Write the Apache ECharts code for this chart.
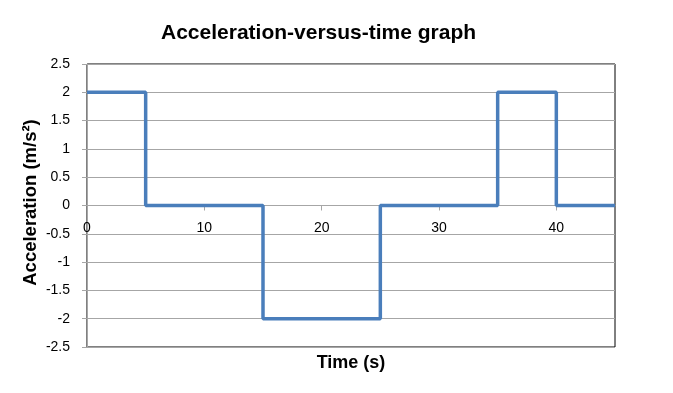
<!DOCTYPE html>
<html>
<head>
<meta charset="utf-8">
<script src="https://cdn.jsdelivr.net/npm/echarts@6/dist/echarts.min.js"></script>
<style>
html,body{margin:0;padding:0;background:#fff;}
#main{width:673px;height:393px;}
</style>
</head>
<body>
<div id="main"></div>
<script>
// Step points: acceleration holds each value until the next time
const times = [0, 5, 15, 25, 35, 40, 45];
const accel = [2, 0, -2, 0, 2, 0, 0];
const xTicks = [0, 10, 20, 30, 40];
const yTicks = [-2.5, -2, -1.5, -1, -0.5, 0, 0.5, 1, 1.5, 2, 2.5];

const font = 'Liberation Sans, Arial, sans-serif';
const gridTop = 64, gridBottom = 46, H = 393;
const plotH = H - gridTop - gridBottom;
const zeroOffset = -plotH * (0 - (-2.5)) / 5; // move x axis up to y = 0

const chart = echarts.init(document.getElementById('main'), null, {renderer: 'canvas'});
chart.setOption({
  animation: false,
  title: {
    text: 'Acceleration-versus-time graph',
    left: 156, top: 18,
    textStyle: {fontFamily: font, fontWeight: 'bold', fontSize: 21, color: '#000'}
  },
  grid: {
    left: 87, right: 58, top: gridTop, bottom: gridBottom,
    show: true, borderColor: '#000', borderWidth: 1, backgroundColor: 'transparent'
  },
  xAxis: [{
    type: 'value', min: 0, max: 45, interval: 10, position: 'bottom', offset: zeroOffset,
    axisLine: {onZero: false, lineStyle: {color: '#a6a6a6', width: 1}},
    axisTick: {show: true, inside: false, length: 5, lineStyle: {color: '#a6a6a6'}},
    axisLabel: {
      margin: 16, fontFamily: font, fontSize: 14, color: '#000',
      showMaxLabel: false,
      formatter: v => (xTicks.indexOf(v) >= 0 ? String(v) : '')
    },
    splitLine: {show: false}
  }, {
    type: 'value', min: 0, max: 45, position: 'bottom', offset: 0,
    axisLine: {show: false, onZero: false}, axisTick: {show: false},
    axisLabel: {show: false}, splitLine: {show: false},
    name: 'Time (s)', nameLocation: 'middle', nameGap: 7,
    nameTextStyle: {fontFamily: font, fontWeight: 'bold', fontSize: 18, color: '#000', verticalAlign: 'top'}
  }],
  yAxis: {
    type: 'value', min: -2.5, max: 2.5, interval: 0.5,
    axisLine: {show: true, onZero: false, lineStyle: {color: '#a6a6a6', width: 1}},
    axisTick: {show: true, length: 5, lineStyle: {color: '#a6a6a6'}},
    axisLabel: {
      margin: 17, fontFamily: font, fontSize: 14, color: '#000',
      formatter: v => String(yTicks.find(t => Math.abs(t - v) < 1e-9) ?? v)
    },
    splitLine: {show: true, lineStyle: {color: '#a6a6a6', width: 1}},
    name: 'Acceleration (m/s²)', nameLocation: 'middle', nameGap: 47, nameRotate: 90,
    nameMoveOverlap: false,
    nameTextStyle: {fontFamily: font, fontWeight: 'bold', fontSize: 18.5, color: '#000', padding: [0, 0, 0, 6]}
  },
  series: [{
    type: 'line', step: 'end', xAxisIndex: 0,
    data: times.map((t, i) => [t, accel[i]]),
    showSymbol: false, symbol: 'none',
    lineStyle: {color: '#4a7ebb', width: 3.5}
  }]
});
</script>
</body>
</html>
